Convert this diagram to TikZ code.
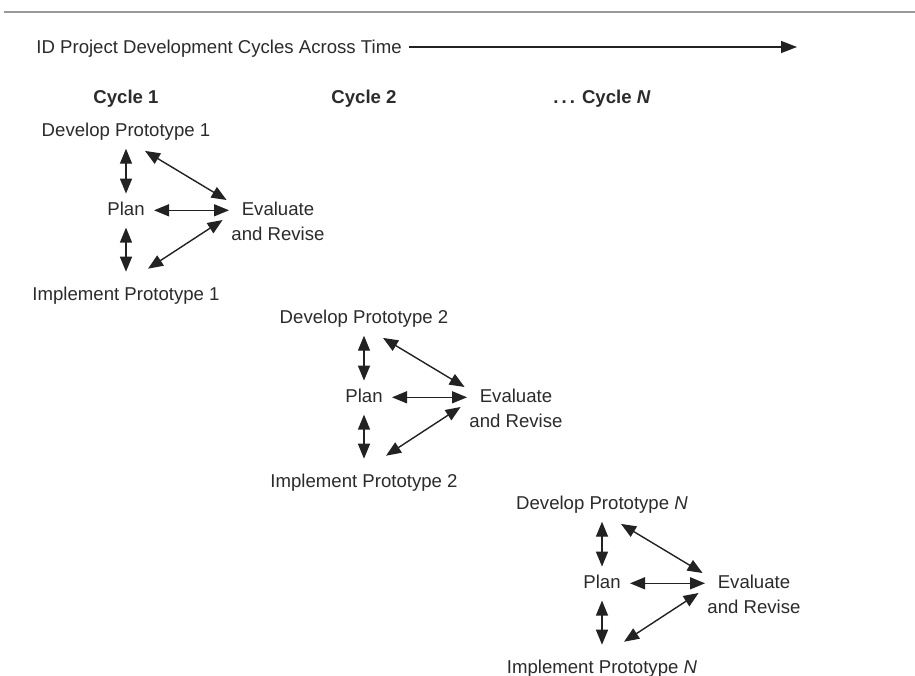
\documentclass[tikz,border=0pt]{standalone}
\usepackage{fontspec}
\setmainfont{Liberation Sans}
\usetikzlibrary{arrows.meta,calc}
\definecolor{txt}{HTML}{2B2B2B}
\definecolor{ln}{HTML}{222222}
\begin{document}
\begin{tikzpicture}[x=0.5pt,y=-0.5pt,
  lbl/.style={inner sep=0pt, anchor=base, text=txt, font=\fontsize{9.3}{12.5}\selectfont,
    text height=0.72em, text depth=0.2em},
  evl/.style={inner sep=0pt, anchor=north, text=txt, font=\fontsize{9.3}{12.5}\selectfont, align=center},
  hdr/.style={lbl, font=\fontsize{9.3}{12.5}\selectfont\bfseries},
  dbl/.style={{Triangle[length=7.5pt,width=6pt]}-{Triangle[length=7.5pt,width=6pt]}, line width=0.7pt, draw=ln},
  one/.style={-{Triangle[length=8pt,width=6pt]}, line width=0.7pt, draw=ln}]
\useasboundingbox (0,0) rectangle (915,675);
\fill[white] (0,0) rectangle (915,675);
\draw[gray!80, line width=0.7pt] (4,12) -- (915,12);

\node[lbl, anchor=base west] (title) at (36,53) {ID Project Development Cycles Across Time};
\coordinate (tend) at (797,47);
\draw[one] (title.east |- tend) ++(7,0) coordinate (tstart) -- (tend);

\node[hdr] (c1) at (126,103) {Cycle 1};
\node[hdr] (c2) at (364,103) {Cycle 2};
\node[hdr] (cn) at (602,103) {.\,.\,. Cycle \textit{N}};

\foreach \n/\dx/\dy/\lab in {1/0/0/1, 2/238/187/2, N/476/373/\textit{N}} {
  \begin{scope}[shift={(\dx,\dy)}]
    \node[lbl] (d\n) at (126,136.5) {Develop Prototype \lab};
    \node[lbl] (p\n) at (126,215) {Plan};
    \node[evl] (e\n) at (278,201.5) {Evaluate\\and Revise};
    \node[lbl] (i\n) at (126,300.5) {Implement Prototype \lab};
    % vertical arrows
    \draw[dbl, shorten <=3.9pt, shorten >=3.3pt] (d\n.south) -- (p\n.north);
    \draw[dbl, shorten <=4.1pt, shorten >=7pt] (p\n.south) -- (i\n.north);
    % horizontal arrow
    \draw[dbl] ($(p\n.east)+(9,0.5)$) -- ($(p\n.east)+(84,0.5)$);
    % diagonals
    \draw[dbl] ($(d\n.south)+(19,10)$) -- ($(e\n.north west)+(-4.5,-1.5)$);
    \draw[dbl] ($(e\n.north west)+(-8.5,18.5)$) -- ($(i\n.north)+(22,-17)$);
  \end{scope}
}
\end{tikzpicture}
\end{document}
